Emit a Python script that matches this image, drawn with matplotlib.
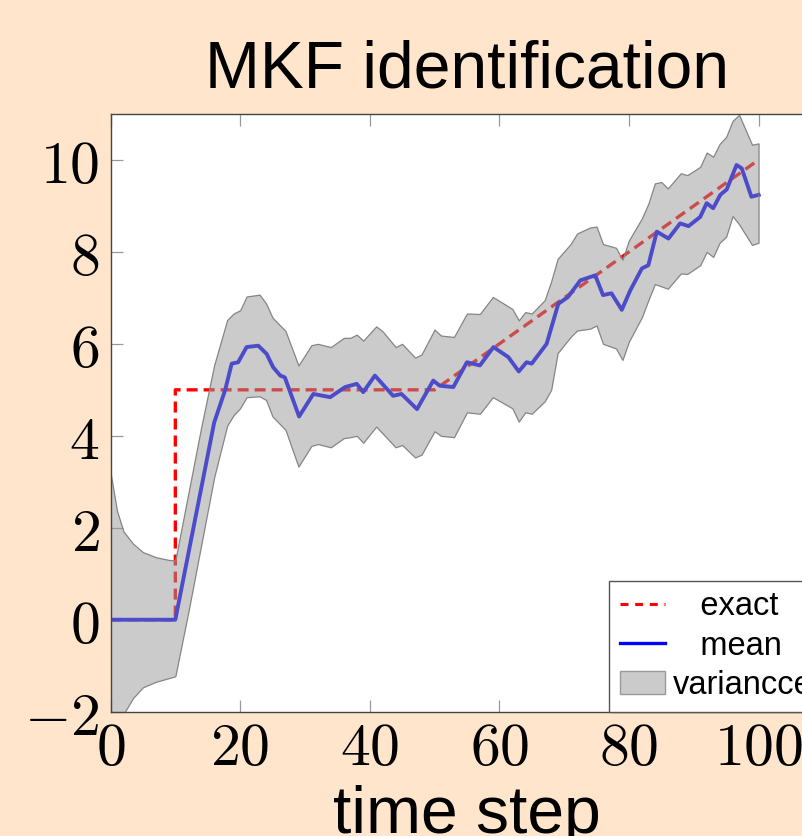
import matplotlib
matplotlib.use("Agg")
import matplotlib.pyplot as plt
from matplotlib.lines import Line2D
from matplotlib.patches import Patch

# exact parameter (step at t=10, ramp after t=50)
exact_t = [0, 10, 10, 50, 100]
exact_y = [0, 0, 5, 5, 10]

# filter mean
mean_t = [0, 10, 16, 17.7, 18.7, 19.7, 21, 22.8, 24.1, 25.1, 26.2, 26.9, 29.1, 31.3,
          33.9, 36.2, 38, 39, 40.8, 43.6, 44.9, 47.3, 49.8, 50.8, 52.9, 55, 57, 59.1,
          61.4, 63, 64.2, 65, 67.3, 69.1, 70.6, 72.5, 74.8, 76, 77.3, 78.9, 80.2, 82,
          83, 84.3, 86.1, 87.9, 89.2, 91, 92, 93, 94.1, 95.1, 96.6, 97.4, 98.9, 100]
mean_y = [0, 0, 4.29, 5.0, 5.57, 5.6, 5.93, 5.96, 5.78, 5.49, 5.31, 5.27, 4.42, 4.91,
          4.84, 5.06, 5.13, 4.95, 5.31, 4.87, 4.91, 4.58, 5.2, 5.09, 5.06, 5.6, 5.53, 5.93,
          5.71, 5.4, 5.6, 5.57, 6.0, 6.87, 7.02, 7.38, 7.49, 7.06, 7.1, 6.74, 7.16, 7.64,
          7.71, 8.44, 8.29, 8.62, 8.56, 8.76, 9.06, 8.95, 9.24, 9.36, 9.89, 9.82, 9.2, 9.24]

# variance band
band_t = [0, 1, 2, 3.5, 5, 7, 9, 10, 12, 14, 16, 18, 19, 20, 21, 23, 24, 25, 27, 29,
          31, 32, 34, 36, 37, 38, 39, 41, 42, 44, 45, 47, 48, 50, 51, 53, 55, 57, 59,
          62, 63, 64, 65, 67, 68, 69, 71, 72, 74, 75, 76, 78, 79, 80, 82, 83, 84, 85,
          86, 88, 89, 91, 92, 93, 94, 95, 96, 97, 99, 100]
band_upper = [3.2, 2.37, 1.92, 1.65, 1.47, 1.36, 1.3, 1.29, 2.74, 4.19, 5.54, 6.52, 6.66,
              6.73, 7.03, 7.07, 6.88, 6.57, 6.28, 5.53, 5.97, 6.0, 5.93, 6.13, 6.13, 6.2,
              6.07, 6.38, 6.27, 5.93, 6.0, 5.7, 5.77, 6.31, 6.18, 6.15, 6.66, 6.65, 7.02,
              6.76, 6.51, 6.69, 6.66, 6.95, 7.36, 7.85, 8.17, 8.4, 8.53, 8.55, 8.17, 8.09,
              7.83, 8.25, 8.73, 9.05, 9.49, 9.52, 9.38, 9.71, 9.67, 9.85, 10.16, 10.07,
              10.35, 10.5, 10.85, 10.98, 10.33, 10.36]
band_lower = [-3.2, -2.45, -2.05, -1.7, -1.47, -1.35, -1.27, -1.23, 0.16, 1.63, 3.1, 4.22,
              4.45, 4.6, 4.84, 4.86, 4.78, 4.42, 4.13, 3.33, 3.78, 3.82, 3.75, 3.95, 3.97,
              4.0, 3.85, 4.2, 4.05, 3.75, 3.8, 3.53, 3.59, 4.1, 4.0, 3.97, 4.51, 4.48, 4.84,
              4.6, 4.31, 4.51, 4.48, 4.75, 5.0, 5.8, 6.15, 6.29, 6.33, 6.4, 6.0, 5.9, 5.65,
              6.05, 6.58, 6.95, 7.3, 7.25, 7.2, 7.53, 7.52, 7.71, 8.0, 7.89, 8.2, 8.33,
              8.78, 8.6, 8.15, 8.2]

x_ticks = [0, 20, 40, 60, 80, 100]
y_ticks = [-2, 0, 2, 4, 6, 8, 10]

bg = '#fee5cb'
sans = 'Liberation Sans'
plt.rcParams['mathtext.fontset'] = 'cm'

fig = plt.figure(figsize=(8.02, 8.36), dpi=100, facecolor=bg)
ax = fig.add_axes([0.1378, 0.1487, 0.8888, 0.7150])
ax.set_facecolor('white')

red_line, = ax.plot(exact_t, exact_y, color='red', lw=2.4, zorder=2)
red_line.set_dashes([3.3, 1.8])
ax.plot(mean_t, mean_y, color='blue', lw=2.8, solid_joinstyle='round', zorder=2)
# grey band drawn on top, semi-transparent
ax.fill_between(band_t, band_lower, band_upper, facecolor=(0.596, 0.596, 0.596, 0.5),
                edgecolor='#858585', linewidth=0.9, zorder=3)

ax.set_xlim(0, 110)
ax.set_ylim(-2, 11)
ax.set_xticks(x_ticks)
ax.set_xticklabels(['$%d$' % v for v in x_ticks])
ax.set_yticks(y_ticks)
ax.set_yticklabels(['$%d$' % v for v in y_ticks])
ax.tick_params(direction='in', length=8.6, width=0.9, color='#999999',
               labelsize=43, top=True, right=True)
ax.tick_params(axis='x', pad=5)
ax.tick_params(axis='y', pad=8)
for s in ax.spines.values():
    s.set_color('#444444')
    s.set_linewidth(1.0)
    s.set_zorder(4)

ax.set_title('MKF identification', fontsize=47.5, family=sans, pad=19)
ax.set_xlabel('time step', fontsize=47.5, family=sans, va='baseline')
ax.xaxis.set_label_coords(0.5, -0.203)

handles = [Line2D([], [], color='red', lw=2.2, dashes=[2.6, 2.2]),
           Line2D([], [], color='blue', lw=2.4),
           Patch(facecolor='#cbcbcb', edgecolor='#999999')]
leg = ax.legend(handles, ['   exact', '   mean', 'variancce'], loc='lower right',
                borderaxespad=0, fancybox=False, framealpha=1, edgecolor='#555555',
                prop={'family': sans, 'size': 23.5}, labelspacing=0.26, borderpad=0.32,
                handlelength=1.4, handletextpad=0.24)
leg.get_frame().set_linewidth(1.0)
leg.set_zorder(5)

fig.savefig('out.png', dpi=100, facecolor=bg)
